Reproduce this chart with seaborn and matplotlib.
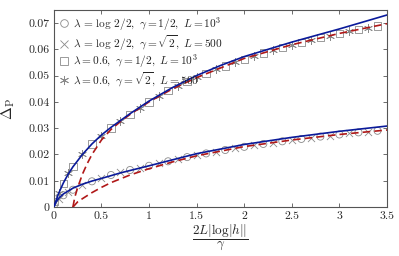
import numpy as np
import pandas as pd
import matplotlib
matplotlib.use("Agg")
import matplotlib.pyplot as plt
from matplotlib.lines import Line2D
import seaborn as sns

# ---------------- data ----------------
# upper blue solid curve
xb_up = [0, 0.02, 0.05, 0.1, 0.15, 0.2, 0.3, 0.4, 0.5, 0.6, 0.8, 1.0, 1.25, 1.5, 1.75, 2.0, 2.5, 3.0, 3.5]
yb_up = [0, 0.0022, 0.0052, 0.0092, 0.0125, 0.0153, 0.0200, 0.0240, 0.0274, 0.0303, 0.0355, 0.0403, 0.0455, 0.0500, 0.0538, 0.0572, 0.0627, 0.0677, 0.0730]
# upper red dashed curve
xr_up = [0.2, 0.22, 0.25, 0.3, 0.35, 0.4, 0.5, 0.6, 0.7, 0.8, 1.0, 1.25, 1.5, 2.0, 2.5, 3.0, 3.5]
yr_up = [0, 0.0038, 0.0074, 0.0125, 0.0165, 0.0200, 0.0255, 0.0295, 0.0325, 0.0352, 0.0400, 0.0450, 0.0492, 0.0565, 0.0617, 0.0660, 0.0697]
# lower blue solid curve
xb_lo = [0, 0.02, 0.05, 0.1, 0.2, 0.3, 0.4, 0.5, 0.7, 1.0, 1.5, 2.0, 2.5, 3.0, 3.5]
yb_lo = [0, 0.0018, 0.0033, 0.0050, 0.0072, 0.0087, 0.0099, 0.0109, 0.0130, 0.0157, 0.0203, 0.0238, 0.0265, 0.0288, 0.0308]
# lower red dashed curve
xr_lo = [0.2, 0.25, 0.3, 0.4, 0.5, 0.6, 0.8, 1.0, 1.25, 1.5, 2.0, 2.5, 3.0, 3.5]
yr_lo = [0, 0.0020, 0.0032, 0.0055, 0.0075, 0.0093, 0.0122, 0.0146, 0.0172, 0.0195, 0.0230, 0.0255, 0.0276, 0.0293]

# squares: lambda=0.6, gamma=1/2, L=1e3
x_sq = [0, 0.1, 0.2, 0.4, 0.6, 0.8, 1.0, 1.2, 1.4, 1.6, 1.8, 2.0, 2.2, 2.4, 2.6, 2.8, 3.0, 3.2, 3.4]
y_sq = [0.0022, 0.0090, 0.0155, 0.0240, 0.0300, 0.0352, 0.0400, 0.0443, 0.0478, 0.0508, 0.0536, 0.0562, 0.0585, 0.0606, 0.0626, 0.0644, 0.0660, 0.0675, 0.0688]
# asterisks: lambda=0.6, gamma=sqrt2, L=500
x_as = [0.05, 0.15, 0.3, 0.5, 0.7, 0.9, 1.1, 1.3, 1.5, 1.7, 1.9, 2.1, 2.3, 2.5, 2.7, 2.9, 3.1, 3.3]
y_as = [0.0054, 0.0128, 0.0200, 0.0272, 0.0328, 0.0378, 0.0422, 0.0461, 0.0494, 0.0523, 0.0550, 0.0574, 0.0596, 0.0616, 0.0635, 0.0652, 0.0668, 0.0682]
# circles: lambda=log2/2, gamma=1/2, L=1e3
x_ci = [0, 0.1, 0.2, 0.4, 0.6, 0.8, 1.0, 1.2, 1.4, 1.6, 1.8, 2.0, 2.2, 2.4, 2.6, 2.8, 3.0, 3.2, 3.4]
y_ci = [0.0006, 0.0045, 0.0066, 0.0098, 0.0122, 0.0141, 0.0157, 0.0174, 0.0190, 0.0204, 0.0217, 0.0229, 0.0240, 0.0250, 0.0259, 0.0268, 0.0276, 0.0284, 0.0290]
# crosses: lambda=log2/2, gamma=sqrt2, L=500
x_cr = [0.05, 0.15, 0.3, 0.5, 0.7, 0.9, 1.1, 1.3, 1.5, 1.7, 1.9, 2.1, 2.3, 2.5, 2.7, 2.9, 3.1, 3.3]
y_cr = [0.0030, 0.0058, 0.0085, 0.0111, 0.0132, 0.0150, 0.0166, 0.0182, 0.0197, 0.0211, 0.0223, 0.0235, 0.0245, 0.0255, 0.0264, 0.0272, 0.0280, 0.0287]

legend_labels = [
    r"$\lambda\, =\, \log\, 2/2,\ \gamma = 1/2,\ L = 10^3$",
    r"$\lambda\, =\, \log\, 2/2,\ \gamma = \sqrt{2},\ L = 500$",
    r"$\lambda = 0.6,\ \gamma = 1/2,\ L = 10^3$",
    r"$\lambda = 0.6,\ \gamma = \sqrt{2},\ L = 500$",
]
x_ticks = [0, 0.5, 1, 1.5, 2, 2.5, 3, 3.5]
x_ticklabels = ["0", "0.5", "1", "1.5", "2", "2.5", "3", "3.5"]
y_ticks = [0, 0.01, 0.02, 0.03, 0.04, 0.05, 0.06, 0.07]
y_ticklabels = ["0", "0.01", "0.02", "0.03", "0.04", "0.05", "0.06", "0.07"]

# ---------------- style ----------------
sns.set_theme(style="ticks")
plt.rcParams["font.family"] = "serif"
plt.rcParams["font.serif"] = ["cmr10", "DejaVu Serif"]
plt.rcParams["mathtext.fontset"] = "cm"
plt.rcParams["axes.formatter.use_mathtext"] = True

BLUE = "#0a1a9a"
RED = "#b01818"
GRAY = "#8a8a8a"
AST = (6, 2, 0)

fig = plt.figure(figsize=(3.99, 2.56), dpi=100)
ax = fig.add_axes([0.135, 0.191, 0.835, 0.770])

def scat(x, y, marker, size):
    df = pd.DataFrame({"x": x, "y": y})
    if marker in ("o", "s"):
        sns.scatterplot(data=df, x="x", y="y", marker=marker, s=size, facecolors="none",
                        edgecolor=GRAY, linewidth=0.6, ax=ax, zorder=2, legend=False)
    else:
        sns.scatterplot(data=df, x="x", y="y", marker=marker, s=size, color=GRAY,
                        linewidth=0.6, ax=ax, zorder=2, legend=False)

scat(x_ci, y_ci, "o", 26)
scat(x_cr, y_cr, "x", 26)
scat(x_sq, y_sq, "s", 28)
scat(x_as, y_as, AST, 34)

def line(x, y, color, dashed):
    df = pd.DataFrame({"x": x, "y": y})
    sns.lineplot(data=df, x="x", y="y", color=color, lw=1.2, ax=ax, zorder=3,
                 linestyle=(0, (4.5, 2.5)) if dashed else "-", errorbar=None)

line(xr_up, yr_up, RED, True)
line(xr_lo, yr_lo, RED, True)
line(xb_up, yb_up, BLUE, False)
line(xb_lo, yb_lo, BLUE, False)

ax.set_xlim(0, 3.5)
ax.set_ylim(0, 0.0749)
ax.set_xticks(x_ticks)
ax.set_xticklabels(x_ticklabels)
ax.set_yticks(y_ticks)
ax.set_yticklabels(y_ticklabels)
ax.tick_params(direction="in", length=3, width=0.6, labelsize=8.5, top=True, right=True,
               color="#555555", pad=3)
for s in ax.spines.values():
    s.set_linewidth(0.8)
    s.set_color("#555555")

ax.set_xlabel(r"$\dfrac{2L|\log|h||}{\gamma}$", fontsize=9.5, labelpad=1)
ax.set_ylabel(r"$\Delta_{\rm P}$", fontsize=11, labelpad=8)

handles = [
    Line2D([], [], ls="none", marker="o", mfc="none", mec=GRAY, ms=5.5, mew=0.6),
    Line2D([], [], ls="none", marker="x", color=GRAY, ms=5.5, mew=0.6),
    Line2D([], [], ls="none", marker="s", mfc="none", mec=GRAY, ms=5.5, mew=0.6),
    Line2D([], [], ls="none", marker=AST, color=GRAY, ms=6.5, mew=0.6),
]
ax.legend(handles, legend_labels, loc="upper left", frameon=False, fontsize=8.2,
          handlelength=0.8, handletextpad=0.45, labelspacing=0.0,
          borderaxespad=0.25, borderpad=0.2)

fig.savefig("out.png", dpi=100)
